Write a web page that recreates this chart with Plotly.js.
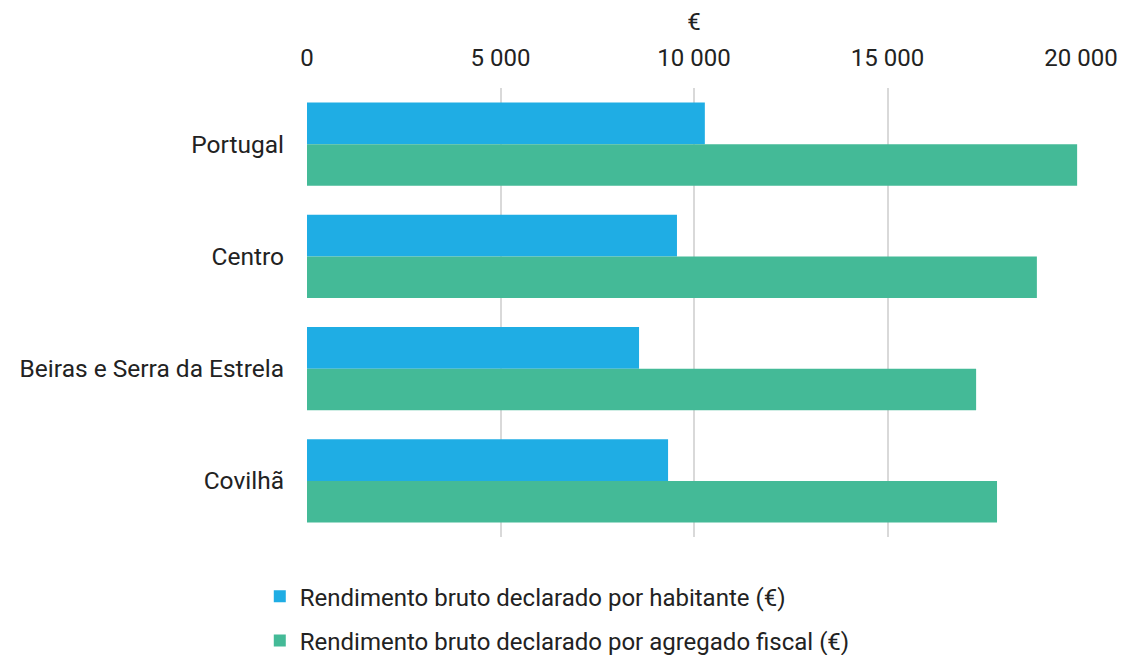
<!DOCTYPE html>
<html><head><meta charset="utf-8">
<script src="https://cdn.plot.ly/plotly-3.0.1.min.js"></script>
<style>html,body{margin:0;padding:0;background:#fff;}#chart{width:1123px;height:655px;}</style>
</head><body><div id="chart"></div>
<script>
const categories = ["Portugal", "Centro", "Beiras e Serra da Estrela", "Covilhã"];
const seriesNames = ["Rendimento bruto declarado por habitante (€)", "Rendimento bruto declarado por agregado fiscal (€)"];
const perInhabitant = [10280, 9560, 8580, 9330];
const perHousehold = [19900, 18860, 17290, 17830];
const tickValues = [0, 5000, 10000, 15000, 20000];
const tickLabels = ["0", "5 000", "10 000", "15 000", "20 000"];

const font = "Roboto, 'DejaVu Sans', sans-serif";
const data = [
  {type:'bar', orientation:'h', name:seriesNames[0], y:categories, x:perInhabitant,
   marker:{color:'#1FADE4'}, legendgroup:'a'},
  {type:'bar', orientation:'h', name:seriesNames[1], y:categories, x:perHousehold,
   marker:{color:'#44BA97'}, legendgroup:'b'}
];
const layout = {
  width:1123, height:655,
  margin:{l:307, r:42, t:88, b:118, autoexpand:false},
  paper_bgcolor:'#fff', plot_bgcolor:'#fff',
  font:{family:font, size:24, color:'#222'},
  barmode:'group', bargap:0.26, bargroupgap:0,
  xaxis:{side:'top', range:[0,20000], tickvals:tickValues, ticktext:tickLabels,
    showgrid:true, gridcolor:'#d9d9d9', gridwidth:2, zeroline:false, showline:false,
    ticks:'', ticklabelstandoff:16, tickfont:{size:24},
    title:{text:'€', font:{size:24}, standoff:6}},
  yaxis:{autorange:'reversed', showgrid:false, zeroline:false, showline:false,
    ticks:'', ticklabelstandoff:22, tickfont:{size:24.5}},
  showlegend:true,
  legend:{orientation:'v', x:-0.061, xanchor:'left', y:-0.083, yanchor:'top',
    font:{size:24}, traceorder:'grouped', tracegroupgap:10, itemwidth:30}
};
Plotly.newPlot('chart', data, layout, {displayModeBar:false});
</script></body></html>
